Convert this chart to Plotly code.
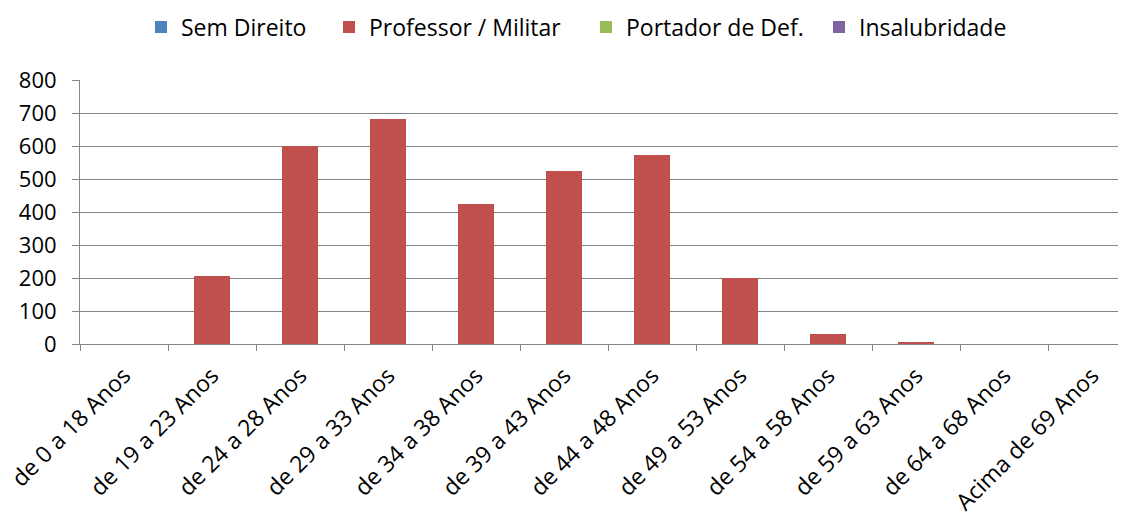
import plotly.graph_objects as go

categories = ["de 0 a 18 Anos", "de 19 a 23 Anos", "de 24 a 28 Anos", "de 29 a 33 Anos",
              "de 34 a 38 Anos", "de 39 a 43 Anos", "de 44 a 48 Anos", "de 49 a 53 Anos",
              "de 54 a 58 Anos", "de 59 a 63 Anos", "de 64 a 68 Anos", "Acima de 69 Anos"]
sem_direito = [0, 0, 0, 0, 0, 0, 0, 0, 0, 0, 0, 0]
professor_militar = [0, 206, 601, 682, 424, 525, 574, 200, 29, 7, 0, 0]
portador_def = [0, 0, 0, 0, 0, 0, 0, 0, 0, 0, 0, 0]
insalubridade = [0, 0, 0, 0, 0, 0, 0, 0, 0, 0, 0, 0]
y_ticks = [0, 100, 200, 300, 400, 500, 600, 700, 800]

series = [
    ("Sem Direito", sem_direito, "#4F81BD"),
    ("Professor / Militar", professor_militar, "#C0504D"),
    ("Portador de Def.", portador_def, "#9BBB59"),
    ("Insalubridade", insalubridade, "#8064A2"),
]

FONT = "Open Sans"
W, H = 1118, 511  # page body adds an 8px offset
legend_names = ["legend", "legend2", "legend3", "legend4"]
legend_px = [155, 343, 600, 833]  # left edge of legend symbol in the window

fig = go.Figure()
for (name, vals, color), lg in zip(series, legend_names):
    fig.add_trace(go.Bar(x=categories, y=vals, name=name, legend=lg, showlegend=True,
                         marker=dict(color=color, line=dict(width=0))))

grid = "#868686"
legends = {}
for lg, px in zip(legend_names, legend_px):
    legends[lg] = dict(orientation="h", xref="container", yref="container",
                       x=(px - 8 - 14) / W, xanchor="left",
                       y=1 - (27 - 8) / H, yanchor="middle",
                       font=dict(size=23, family=FONT), itemwidth=30,
                       bgcolor="rgba(0,0,0,0)", visible=True)

fig.update_layout(
    width=W, height=H, showlegend=True,
    barmode="stack", bargap=0.6,
    paper_bgcolor="white", plot_bgcolor="white",
    margin=dict(l=72, r=0, t=72, b=175),
    font=dict(family=FONT, size=22, color="black"),
    xaxis=dict(type="category", range=[-0.5, 11.386], tickson="boundaries",
               ticks="outside", ticklen=6, tickcolor=grid, automargin=False,
               showline=True, linecolor=grid, linewidth=1,
               tickangle=-45, showgrid=False, ticklabelstandoff=8,
               tickfont=dict(size=23)),
    yaxis=dict(range=[0, 800], tickvals=y_ticks, ticks="outside", ticklen=7,
               tickcolor=grid, showline=True, linecolor=grid, linewidth=1,
               automargin=False, tickfont=dict(size=22), ticklabelstandoff=11,
               showgrid=True, gridcolor=grid, gridwidth=1, zeroline=False),
    **legends,
)
fig.write_html("out.html")
